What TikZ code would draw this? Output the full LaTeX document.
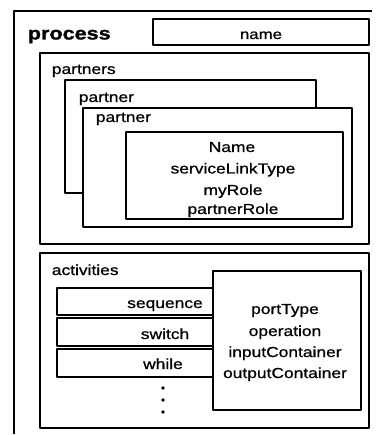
\documentclass[tikz,border=0pt]{standalone}
\usepackage{fontspec}
\setmainfont{Liberation Sans}[FakeStretch=1.2, FakeBold=0.8, BoldFeatures={FakeBold=1.2}]
\begin{document}
\begin{tikzpicture}[x=1bp,y=-1bp, line width=1.7bp, line join=round,
  box/.style={draw, fill=white},
  lbl/.style={inner sep=0pt, anchor=base, font=\fontsize{14.5bp}{17bp}\selectfont},
  lblw/.style={lbl, anchor=base west},
  ttl/.style={inner sep=0pt, anchor=base west, font=\bfseries\fontsize{18bp}{20bp}\selectfont},
  dot/.style={circle, fill, inner sep=0pt, minimum size=3.6bp}]
\useasboundingbox (0,0) rectangle (379,435);
% outer process frame
\draw (372,11) -- (14,11) -- (14,434);
\node[ttl] (process) at (27,39.5) {process};
\draw[box] (153,19) rectangle (369,45);
\node[lbl, font=\fontsize{14bp}{17bp}\selectfont] (name) at (261,39) {name};
% partners
\draw[box] (40,53) rectangle (369,244);
\node[lblw] (partners) at (51,74) {partners};
\draw[box] (65,80) rectangle (316,193);
\node[lblw] (partnerA) at (78,102) {partner};
\draw[box] (83,108) rectangle (352,227);
\node[lblw] (partnerB) at (95,122) {partner};
\draw[box] (126,132) rectangle (343,219);
\node[lbl] (n1) at (232,152) {Name};
\node[lbl] (n2) at (233,173.5) {serviceLinkType};
\node[lbl] (n3) at (233,195) {myRole};
\node[lbl] (n4) at (233,214) {partnerRole};
% activities
\draw[box] (40,253) rectangle (369,428);
\node[lblw] (activities) at (51,275) {activities};
\draw[box] (57,288) rectangle (225,315);
\node[lbl] (seq) at (165,308) {sequence};
\draw[box] (57,318) rectangle (225,346);
\node[lbl] (sw) at (165,339) {switch};
\draw[box] (57,349) rectangle (225,377);
\node[lbl] (wh) at (163,369) {while};
\node[dot] (d1) at (163,388) {};
\node[dot] (d2) at (163,400) {};
\node[dot] (d3) at (163,412) {};
\draw[box] (213,271) rectangle (361,410);
\node[lbl] (pt) at (285,314) {portType};
\node[lbl] (op) at (285,336) {operation};
\node[lbl] (ic) at (285,357) {inputContainer};
\node[lbl] (oc) at (285,378) {outputContainer};
\end{tikzpicture}
\end{document}
